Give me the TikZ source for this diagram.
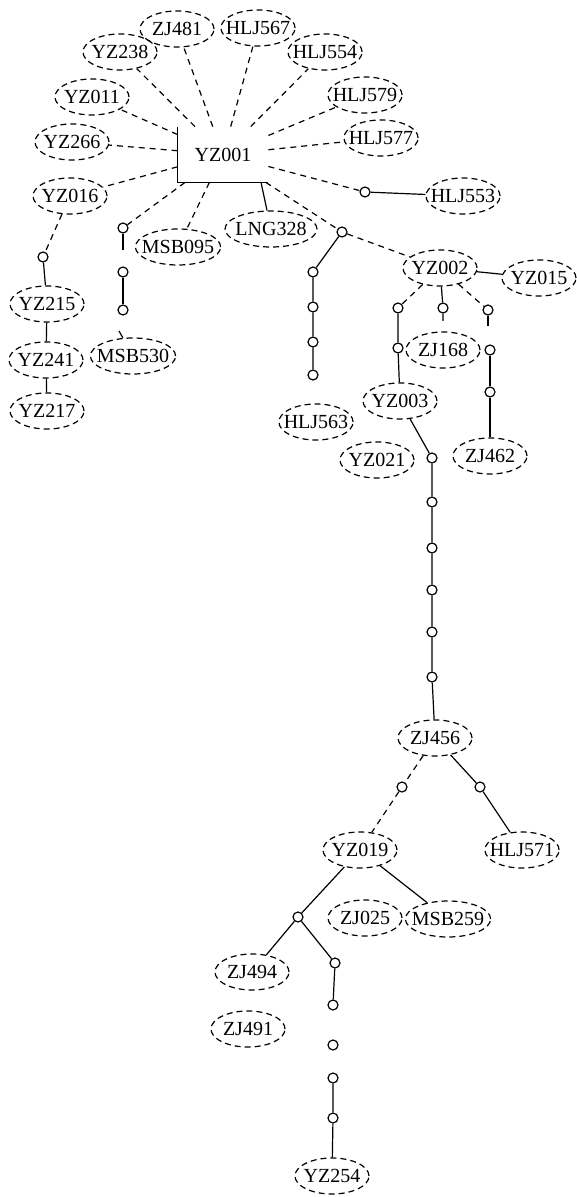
\documentclass[tikz,border=0pt]{standalone}
\usepackage{fontspec}
\setmainfont{Liberation Serif}
\usetikzlibrary{shapes.geometric}
\tikzset{
  lbl/.style={ellipse, draw, line width=0.6pt, dash pattern=on 3pt off 2pt,
    minimum width=37pt, minimum height=18pt, inner xsep=-3pt, inner ysep=0pt,
    font=\fontsize{10}{12}\selectfont},
  dot/.style={circle, draw, line width=0.6pt, fill=white, minimum size=5pt, inner sep=0pt},
  hub/.style={rectangle, minimum width=45pt, minimum height=27.5pt, inner sep=0pt,
    font=\fontsize{10}{12}\selectfont},
  dl/.style={line width=0.6pt, dash pattern=on 3pt off 2.5pt},
  sl/.style={line width=0.6pt}
}
\begin{document}
\begin{tikzpicture}[x=0.5pt,y=-0.5pt]
\useasboundingbox (0,0) rectangle (577,1197);

% central sequence type
\node[hub] (yz001) at (223,154.5) {YZ001};
\draw[sl] (yz001.north west) -- (yz001.south west) -- (yz001.south east);

% labelled sequence types
\node[lbl] (zj481)  at (177,29)  {ZJ481};
\node[lbl] (hlj567) at (258,28)  {HLJ567};
\node[lbl] (yz238)  at (120,52)  {YZ238};
\node[lbl] (hlj554) at (325,52)  {HLJ554};
\node[lbl] (yz011)  at (92,97)   {YZ011};
\node[lbl] (hlj579) at (365,95)  {HLJ579};
\node[lbl] (yz266)  at (72,142)  {YZ266};
\node[lbl] (hlj577) at (381,138) {HLJ577};
\node[lbl] (yz016)  at (70,196)  {YZ016};
\node[lbl] (hlj553) at (463,196) {HLJ553};
\node[lbl] (msb095) at (178,247) {MSB095};
\node[lbl, minimum width=46pt] (lng328) at (271,229) {LNG328};
\node[lbl] (yz002)  at (440,268) {YZ002};
\node[lbl] (yz015)  at (539,278) {YZ015};
\node[lbl] (yz215)  at (47,304)  {YZ215};
\node[lbl] (yz241)  at (46,360)  {YZ241};
\node[lbl] (yz217)  at (47,411)  {YZ217};
\node[lbl] (msb530) at (133,356) {MSB530};
\node[lbl] (hlj563) at (316,422) {HLJ563};
\node[lbl] (zj168)  at (443,350) {ZJ168};
\node[lbl] (yz003)  at (400,401) {YZ003};
\node[lbl] (yz021)  at (377,460) {YZ021};
\node[lbl] (zj462)  at (490,456) {ZJ462};
\node[lbl] (zj456)  at (435,738) {ZJ456};
\node[lbl] (yz019)  at (360,850) {YZ019};
\node[lbl] (hlj571) at (522,850) {HLJ571};
\node[lbl] (zj025)  at (365,918) {ZJ025};
\node[lbl] (msb259) at (448,919) {MSB259};
\node[lbl] (zj494)  at (252,972) {ZJ494};
\node[lbl] (zj491)  at (248,1029){ZJ491};
\node[lbl] (yz254)  at (332,1176){YZ254};

% hypothetical intermediates
\node[dot] (c1) at (365,192) {};
\node[dot] (c2) at (123,228) {};
\node[dot] (c3) at (123,272) {};
\node[dot] (c4) at (123,310) {};
\node[dot] (c5) at (43,257) {};
\node[dot] (j)  at (342,232) {};
\node[dot] (d1) at (313,272) {};
\node[dot] (d2) at (313,307) {};
\node[dot] (d3) at (313,342) {};
\node[dot] (d4) at (313,375) {};
\node[dot] (e1) at (398,308) {};
\node[dot] (e2) at (398,348) {};
\node[dot] (m1) at (443,308) {};
\node[dot] (r1) at (488,310) {};
\node[dot] (r2) at (490,350) {};
\node[dot] (r3) at (490,392) {};
\node[dot] (f0) at (432,458) {};
\node[dot] (f1) at (432,502) {};
\node[dot] (f2) at (432,548) {};
\node[dot] (f3) at (432,590) {};
\node[dot] (f4) at (432,632) {};
\node[dot] (f5) at (432,677) {};
\node[dot] (g1) at (402,787) {};
\node[dot] (g2) at (480,787) {};
\node[dot] (h1) at (298,917) {};
\node[dot] (h2) at (335,963) {};
\node[dot] (h3) at (333,1005) {};
\node[dot] (h4) at (333,1045) {};
\node[dot] (h5) at (333,1078) {};
\node[dot] (h6) at (333,1118) {};

% loose ends
\coordinate (s1) at (123,250);
\coordinate (s2) at (119,331);
\coordinate (s3) at (443,321);
\coordinate (s4) at (488,326);

% links from YZ001
\foreach \t in {zj481,hlj567,hlj554,hlj579,hlj577,yz238,yz011,yz266,yz016,c1,c2,msb095,j}
  \draw[dl] (yz001) -- (\t);
\draw[sl] (yz001.south) ++(19pt,0) coordinate (b1) -- (lng328);

\draw[sl] (c1) -- (hlj553);
\draw[sl] (c2) -- (s1);
\draw[sl] (c3) -- (c4);
\draw[sl] (s2) -- (msb530);

\draw[dl] (yz016) -- (c5);
\draw[sl] (c5) -- (yz215);
\draw[sl] (yz215) -- (yz241);
\draw[sl] (yz241) -- (yz217);

\draw[sl] (j) -- (d1) -- (d2) -- (d3) -- (d4);
\draw[dl] (j) -- (yz002);
\draw[sl] (yz002) -- (yz015);

\draw[dl] (yz002) -- (e1);
\draw[sl] (e1) -- (e2) -- (yz003);
\draw[sl] (yz002) -- (m1) -- (s3);
\draw[dl] (yz002) -- (r1);
\draw[sl] (r1) -- (s4);
\draw[sl] (r2) -- (r3) -- (zj462);

\draw[sl] (yz003) -- (f0) -- (f1) -- (f2) -- (f3) -- (f4) -- (f5) -- (zj456);
\draw[dl] (zj456) -- (g1);
\draw[sl] (zj456) -- (g2) -- (hlj571);
\draw[dl] (g1) -- (yz019);
\draw[sl] (yz019) -- (msb259);
\draw[sl] (yz019) -- (h1);
\draw[sl] (h1) -- (zj494);
\draw[sl] (h1) -- (h2) -- (h3);
\draw[sl] (h5) -- (h6) -- (yz254);
\end{tikzpicture}
\end{document}
